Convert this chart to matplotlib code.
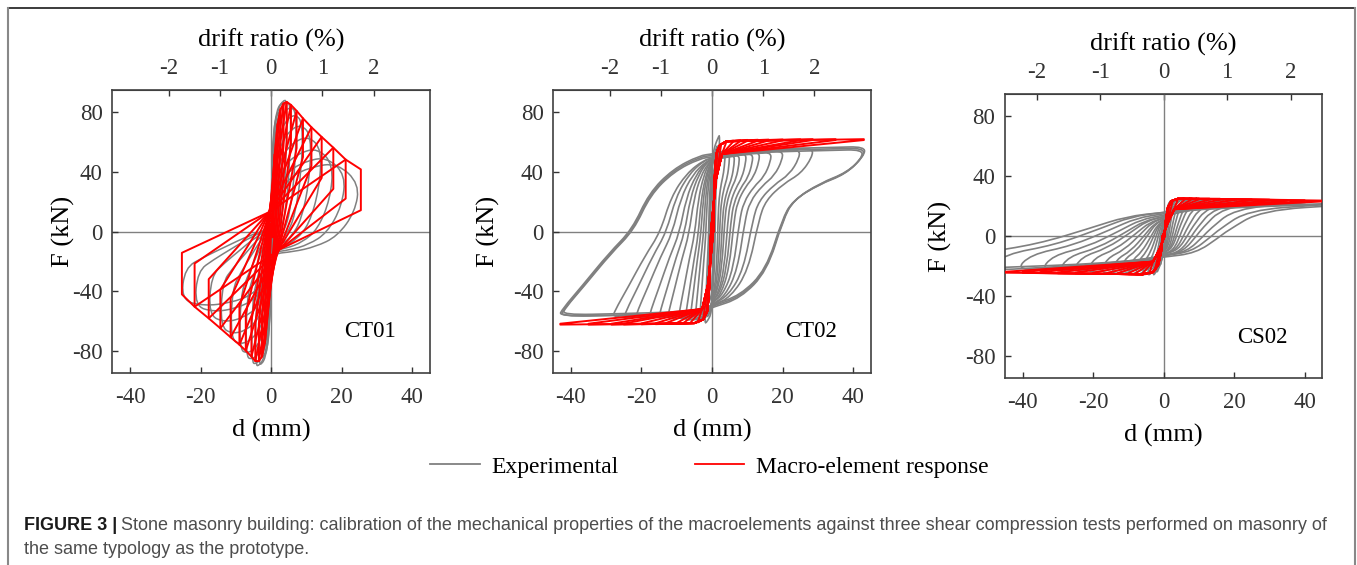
import numpy as np
import matplotlib.pyplot as plt
from matplotlib.lines import Line2D
from matplotlib.path import Path
from matplotlib.patches import PathPatch

plt.rcParams['font.family'] = ['Liberation Serif', 'DejaVu Serif']
plt.rcParams['axes.unicode_minus'] = False

GRAY = '#808080'
RED = '#ff0000'

# ---------------- CT01 ----------------
# model (red): peaks on the envelope, bottom of the vertical drop, pinch points
ct01_mod_dpos = [1.0, 1.8, 2.6, 3.5, 4.4, 5.6, 7.2, 9.0, 11.4, 14.3, 17.6, 21.1, 25.4]
ct01_mod_Fpos = [52, 72, 82, 86, 87, 85, 81, 76, 70, 63.5, 56.3, 48.3, 41.7]
ct01_mod_rpos = [32, 48, 55, 58, 60, 59, 56, 50, 44, 36, 28.6, 22.1, 14.3]
ct01_mod_dneg = [-1.0, -1.8, -2.6, -3.5, -4.5, -5.6, -7.2, -9.0, -11.5, -14.4, -17.7, -21.7, -25.3]
ct01_mod_Fneg = [-55, -75, -84, -87, -87, -84, -80, -76, -71, -65, -58.3, -50.5, -42.2]
ct01_mod_rneg = [-35, -50, -58, -62, -62, -60, -55, -50, -45, -39, -32, -21.5, -14.3]
ct01_mod_pin_pos_d = [0.5, 0.8, 1.1, 1.4, 1.7, 2.0, 2.2, 2.3, 2.4, 2.4, 2.4, 2.4, 2.4]
ct01_mod_pin_pos_F = [-4, -6, -7, -8, -9, -9, -10, -10, -11, -11, -12, -12, -12]
ct01_mod_pin_neg_d = [-0.3, -0.4, -0.5, -0.5, -0.6, -0.6, -0.6, -0.6, -0.6, -0.6, -0.6, -0.6, -0.6]
ct01_mod_pin_neg_F = [5, 7, 9, 10, 11, 12, 12, 12, 13, 13, 13, 13, 13]

# experimental (gray)
ct01_exp_dpos = [1.0, 1.8, 2.6, 3.5, 4.5, 5.6, 7.2, 9.0, 11.4, 14.3, 17.6, 21.1, 25.0]
ct01_exp_Fmax_pos = [48, 68, 80, 86, 88, 87, 84, 79, 72, 64, 56, 50, 46]
ct01_exp_Fend_pos = [48, 68, 80, 86, 88, 85, 80, 73, 64, 55, 45, 38, 32]
ct01_exp_cpos = [-3, -4, -5, -6, -7, -8, -9, -10, -11, -12, -13, -14, -15]
ct01_exp_dneg = [-1.0, -1.8, -2.6, -3.5, -4.5, -5.6, -7.2, -9.0, -11.5, -14.4, -17.7, -21.7, -25.5]
ct01_exp_Fmax_neg = [-50, -72, -84, -89, -90, -89, -86, -82, -76, -69, -61, -54, -50]
ct01_exp_Fend_neg = [-50, -72, -84, -89, -90, -88, -84, -79, -72, -64, -56, -50, -46]
ct01_exp_cneg = [1, 1, 1, 2, 2, 2, 2, 2, 2, 2, 2, 2, 2]
ct01_tpl = {
    'load_pos': ([0, 0.06, 0.2, 0.45, 0.75, 1.0], [0, 0.45, 0.78, 0.94, 1.0, 1.0]),
    'unload_pos': ([1, 0.95, 0.75, 0.5, 0.25, 0], [1, 0.6, 0.25, 0.1, 0.03, 0]),
    'load_neg': ([0, 0.06, 0.2, 0.45, 0.75, 1.0], [0, 0.45, 0.78, 0.94, 1.0, 1.0]),
    'unload_neg': ([1, 0.96, 0.75, 0.5, 0.25, 0], [1, 0.55, 0.4, 0.25, 0.1, 0]),
}

# ---------------- CT02 ----------------
ct02_exp_dpos = [1.0, 1.5, 2.1, 3.7, 4.9, 6.3, 7.7, 9.6, 11.5, 13.4, 16.7, 20.0, 24.8, 28.5, 42.6, 43.0, 43.3]
ct02_exp_Fpos = [45, 58, 65, 55, 52, 51, 51, 52, 52, 53, 53, 54, 55, 56, 55, 56, 57]
ct02_exp_cpos = [-30, -38, -42, -44, -45, -46, -46, -47, -47, -48, -48, -49, -49, -50, -49, -50, -51]
ct02_exp_dneg = [-1.0, -1.5, -2.0, -3.5, -4.8, -6.2, -7.6, -9.5, -12.6, -15.0, -17.8, -21.6, -24.9, -28.2, -42.5, -43.0, -43.4]
ct02_exp_Fneg = [-48, -58, -62, -60, -60, -60, -60, -59, -59, -58, -58, -58, -58, -58, -56, -57, -57]
ct02_exp_cneg = [30, 38, 42, 44, 45, 46, 46, 47, 47, 48, 48, 48, 49, 49, 50, 51, 52]
ct02_tpl = {
    'load_pos': ([0, 0.1, 0.4, 0.8, 1], [0, 0.4, 0.7, 0.9, 1]),
    'unload_pos': ([1, 0.995, 0.884, 0.709, 0.535, 0.465, 0.36, 0.186, 0],
                   [1, 0.943, 0.84, 0.774, 0.67, 0.547, 0.226, 0.057, 0]),
    'load_neg': ([0, 0.05, 0.2, 0.6, 1], [0, 0.4, 0.7, 0.88, 1]),
    'unload_neg': ([1, 0.977, 0.851, 0.674, 0.521, 0.412, 0.256, 0.081, 0],
                   [1, 0.954, 0.815, 0.611, 0.463, 0.241, 0.093, 0.009, 0]),
}
ct02_mod_amp = [1.5, 2.5, 4, 6, 8, 10, 13, 16, 20, 25, 28.5, 35, 43]
ct02_mod_Fpos = [55, 58, 60.5, 61, 61.3, 61.5, 61.6, 61.7, 61.8, 61.9, 62, 62, 62]
ct02_mod_Fneg = [-55, -59, -61, -61.5, -61.8, -62, -62, -62.2, -62.3, -62.4, -62.5, -62.5, -62.5]
ct02_mod_knee_d = [0.3, 0.7, 1.2, 2.2, 4.0]
ct02_mod_knee_F = [0, 35, 52, 58, 60.5]
ct02_mod_back_d = [2.8, 1.1, -0.3]
ct02_mod_back_F = [52, 35, 0]
ct02_mod_kneen_d = [-0.3, -0.7, -1.3, -2.5, -5.0]
ct02_mod_kneen_F = [0, -35, -53, -59, -61.5]
ct02_mod_backn_d = [-2.8, -1.1, 0.3]
ct02_mod_backn_F = [-52, -35, 0]

# ---------------- CS02 ----------------
cs02_exp_dpos = [1.0, 2.0, 3.0, 4.5, 6, 8, 10, 12.5, 15, 18, 22, 26, 30, 35, 42, 50, 58]
cs02_exp_Fpos = [18, 24, 25, 26, 26, 26, 26, 25.5, 25.5, 25, 25, 24.5, 24, 24, 23, 22, 22]
cs02_exp_cpos = [-6, -8, -9, -10, -10, -10, -11, -11, -11, -12, -12, -12, -13, -13, -13, -13, -14]
cs02_exp_dneg = [-1.0, -2.0, -3.0, -4.5, -6, -8, -10, -12.5, -15, -18, -22, -26, -30, -35, -42, -50, -58]
cs02_exp_Fneg = [-20, -25, -27, -27, -27, -27, -26.5, -26, -26, -25.5, -25, -24.5, -24, -23.5, -23, -23, -22]
cs02_exp_cneg = [5, 7, 8, 9, 10, 10, 10, 11, 11, 12, 12, 13, 13, 14, 15, 16, 16]
cs02_tpl = {
    'load_pos': ([0, 0.2, 0.6, 1], [0, 0.35, 0.75, 1]),
    'unload_pos': ([1, 0.9, 0.48, 0.31, 0.272, 0.158, 0], [1, 0.97, 0.871, 0.486, 0.371, 0.074, 0]),
    'load_neg': ([0, 0.15, 0.4, 0.7, 1], [0, 0.3, 0.6, 0.8, 1]),
    'unload_neg': ([1, 0.9, 0.62, 0.354, 0.184, 0], [1, 0.718, 0.564, 0.274, 0.077, 0]),
}
cs02_mod_amp = [1.5, 2.5, 4, 6, 8, 10, 13, 16, 20, 25, 30, 35, 40, 45]
cs02_mod_Fpos = [20, 23.5, 25, 25.3, 25.3, 25.2, 25.1, 25, 24.8, 24.6, 24.4, 24.2, 24, 23.8]
cs02_mod_Fneg = [-19, -23, -25, -25.5, -25.5, -25.4, -25.3, -25.2, -25, -24.9, -24.8, -24.6, -24.5, -24.4]
cs02_mod_knee_d = [0.2, 0.6, 1.2, 2.2, 4.0]
cs02_mod_knee_F = [0, 10, 19, 23.5, 25]
cs02_mod_back_d = [3.0, 1.0, -0.2]
cs02_mod_back_F = [18, 8, 0]
cs02_mod_kneen_d = [-0.3, -0.7, -1.5, -3.0, -6.0]
cs02_mod_kneen_F = [0, -10, -19, -24, -25.5]
cs02_mod_backn_d = [-3.0, -1.0, 0.2]
cs02_mod_backn_F = [-17, -8, 0]

d_ticks = [-40, -20, 0, 20, 40]
F_ticks = [-80, -40, 0, 40, 80]
drift_ticks = [-2, -1, 0, 1, 2]


def exp_loop(dp, Fpm, Fpe, cpos, dn, Fnm, Fne, cneg, tpl):
    d, F = [], []
    u, w = tpl['load_pos']
    for ui, wi in zip(u, w):
        d.append(ui * dp); F.append(cneg + wi * (Fpm - cneg))
    F[-1] = Fpe
    u, w = tpl['unload_pos']
    for ui, wi in zip(u[1:], w[1:]):
        d.append(ui * dp); F.append(cpos + wi * (Fpe - cpos))
    u, w = tpl['load_neg']
    for ui, wi in zip(u[1:], w[1:]):
        d.append(ui * dn); F.append(cpos + wi * (Fnm - cpos))
    F[-1] = Fne
    u, w = tpl['unload_neg']
    for ui, wi in zip(u[1:], w[1:]):
        d.append(ui * dn); F.append(cneg + wi * (Fne - cneg))
    return d, F


def smooth_path(d, F):
    # closed quadratic B-spline drawn through the read vertices as control points
    pts = list(zip(d[:-1], F[:-1]))
    n = len(pts)
    mid = lambda a, b: ((a[0] + b[0]) / 2, (a[1] + b[1]) / 2)
    verts = [mid(pts[-1], pts[0])]
    codes = [Path.MOVETO]
    for i in range(n):
        verts += [pts[i], mid(pts[i], pts[(i + 1) % n])]
        codes += [Path.CURVE3, Path.CURVE3]
    return Path(verts, codes)


def model_loop(a, Fp, Fn, kd, kF, bd, bF, knd, knF, bnd, bnF):
    d, F = [], []
    for x, y in zip(kd, kF):
        if x < a:
            d.append(x); F.append(y)
    d += [a, a]; F += [Fp, Fp - 0.6]
    for x, y in zip(bd, bF):
        if x < a:
            d.append(x); F.append(y)
    for x, y in zip(knd, knF):
        if x > -a:
            d.append(x); F.append(y)
    d += [-a, -a]; F += [Fn, Fn + 0.6]
    for x, y in zip(bnd, bnF):
        if x > -a:
            d.append(x); F.append(y)
    d.append(d[0]); F.append(F[0])
    return d, F


def draw_exp(ax, d, F, lw):
    ax.add_patch(PathPatch(smooth_path(d, F), fill=False, edgecolor=GRAY, lw=lw, zorder=2))


def setup_axes(ax, scale, name, ylab_x, xlab_y):
    ax.set_xlim(-45, 45)
    ax.set_ylim(-95, 95)
    ax.axhline(0, color=GRAY, lw=1.0, zorder=0.5)
    ax.axvline(0, color=GRAY, lw=1.0, zorder=0.5)
    ax.set_xticks(d_ticks)
    ax.set_yticks(F_ticks)
    ax.tick_params(direction='in', length=4, width=1, colors='#333333', labelsize=16.5)
    ax.tick_params(axis='x', pad=10)
    ax.tick_params(axis='y', pad=7)
    for s in ax.spines.values():
        s.set_color('#404040'); s.set_linewidth(1.2)
    ax.set_xlabel('d (mm)', fontsize=19)
    ax.set_ylabel('F (kN)', fontsize=19)
    ax.yaxis.set_label_coords(ylab_x, 0.5)
    ax.xaxis.set_label_coords(0.5, xlab_y)
    top = ax.secondary_xaxis('top', functions=(lambda x: x / scale, lambda r: r * scale))
    top.set_xticks(drift_ticks)
    top.tick_params(direction='in', length=4, width=1, colors='#333333', labelsize=16.5, pad=8)
    top.set_xlabel('drift ratio (%)', fontsize=19, labelpad=8)
    top.spines['top'].set_color('#404040')
    ax.text(0.81, 0.145, name, transform=ax.transAxes, fontsize=16.5, ha='center', va='center')


fig = plt.figure(figsize=(13.57, 5.65), dpi=100)
ax1 = fig.add_axes([0.0828, 0.3398, 0.2341, 0.5009])
ax2 = fig.add_axes([0.4077, 0.3398, 0.2341, 0.5009])
ax3 = fig.add_axes([0.7406, 0.3304, 0.2338, 0.5032])

# CT01
for i in range(len(ct01_exp_dpos)):
    d, F = exp_loop(ct01_exp_dpos[i], ct01_exp_Fmax_pos[i], ct01_exp_Fend_pos[i], ct01_exp_cpos[i],
                    ct01_exp_dneg[i], ct01_exp_Fmax_neg[i], ct01_exp_Fend_neg[i], ct01_exp_cneg[i], ct01_tpl)
    draw_exp(ax1, d, F, 1.1)
for i in range(len(ct01_mod_dpos)):
    pd = ct01_mod_dpos[i - 1] if i > 0 else 0
    pF = ct01_mod_Fpos[i - 1] if i > 0 else 0
    nd = ct01_mod_dneg[i - 1] if i > 0 else 0
    nF = ct01_mod_Fneg[i - 1] if i > 0 else 0
    d = [ct01_mod_pin_neg_d[i], pd, ct01_mod_dpos[i], ct01_mod_dpos[i], ct01_mod_pin_pos_d[i],
         nd, ct01_mod_dneg[i], ct01_mod_dneg[i], ct01_mod_pin_neg_d[i]]
    F = [ct01_mod_pin_neg_F[i], pF, ct01_mod_Fpos[i], ct01_mod_rpos[i], ct01_mod_pin_pos_F[i],
         nF, ct01_mod_Fneg[i], ct01_mod_rneg[i], ct01_mod_pin_neg_F[i]]
    ax1.plot(d, F, color=RED, lw=1.4, zorder=3)
setup_axes(ax1, 14.5, 'CT01', -0.118, -0.163)

# CT02
for i in range(len(ct02_exp_dpos)):
    d, F = exp_loop(ct02_exp_dpos[i], ct02_exp_Fpos[i], ct02_exp_Fpos[i], ct02_exp_cpos[i],
                    ct02_exp_dneg[i], ct02_exp_Fneg[i], ct02_exp_Fneg[i], ct02_exp_cneg[i], ct02_tpl)
    draw_exp(ax2, d, F, 1.2)
for i in range(len(ct02_mod_amp)):
    d, F = model_loop(ct02_mod_amp[i], ct02_mod_Fpos[i], ct02_mod_Fneg[i],
                      ct02_mod_knee_d, ct02_mod_knee_F, ct02_mod_back_d, ct02_mod_back_F,
                      ct02_mod_kneen_d, ct02_mod_kneen_F, ct02_mod_backn_d, ct02_mod_backn_F)
    ax2.plot(d, F, color=RED, lw=1.4, zorder=3)
setup_axes(ax2, 14.5, 'CT02', -0.168, -0.163)

# CS02
for i in range(len(cs02_exp_dpos)):
    d, F = exp_loop(cs02_exp_dpos[i], cs02_exp_Fpos[i], cs02_exp_Fpos[i], cs02_exp_cpos[i],
                    cs02_exp_dneg[i], cs02_exp_Fneg[i], cs02_exp_Fneg[i], cs02_exp_cneg[i], cs02_tpl)
    draw_exp(ax3, d, F, 1.2)
for i in range(len(cs02_mod_amp)):
    d, F = model_loop(cs02_mod_amp[i], cs02_mod_Fpos[i], cs02_mod_Fneg[i],
                      cs02_mod_knee_d, cs02_mod_knee_F, cs02_mod_back_d, cs02_mod_back_F,
                      cs02_mod_kneen_d, cs02_mod_kneen_F, cs02_mod_backn_d, cs02_mod_backn_F)
    ax3.plot(d, F, color=RED, lw=1.4, zorder=3)
setup_axes(ax3, 18.0, 'CS02', -0.168, -0.162)

# legend
handles = [Line2D([], [], color=GRAY, lw=1.3), Line2D([], [], color=RED, lw=1.3)]
fig.legend(handles, ['Experimental', 'Macro-element response'], loc='center',
           bbox_to_anchor=(0.5228, 0.1735), ncol=2, frameon=False, fontsize=17,
           handlelength=2.1, columnspacing=3.2, handletextpad=0.5)

# frame
fig.add_artist(Line2D([8 / 1357, 1355 / 1357], [1 - 8 / 565, 1 - 8 / 565], color='#1a1a1a', lw=1.2,
                      transform=fig.transFigure))
fig.add_artist(Line2D([8 / 1357, 8 / 1357], [1 - 8 / 565, 0], color='#888888', lw=1.5,
                      transform=fig.transFigure))
fig.add_artist(Line2D([1355 / 1357, 1355 / 1357], [1 - 8 / 565, 0], color='#888888', lw=1.5,
                      transform=fig.transFigure))

# caption
cap_size = 13
t1 = fig.text(24 / 1357, 1 - 525 / 565, 'FIGURE 3 |', family='Liberation Sans', weight='bold',
              fontsize=cap_size, color='#1a1a1a', va='center')
fig.canvas.draw()
bb = t1.get_window_extent()
fig.text((bb.x1 + 4) / 1357, 1 - 525 / 565,
         'Stone masonry building: calibration of the mechanical properties of the macroelements against '
         'three shear compression tests performed on masonry of',
         family='Liberation Sans', fontsize=cap_size, color='#4d4d4d', va='center')
fig.text(24 / 1357, 1 - 549 / 565, 'the same typology as the prototype.',
         family='Liberation Sans', fontsize=cap_size, color='#4d4d4d', va='center')

fig.savefig('out.png', dpi=100)
